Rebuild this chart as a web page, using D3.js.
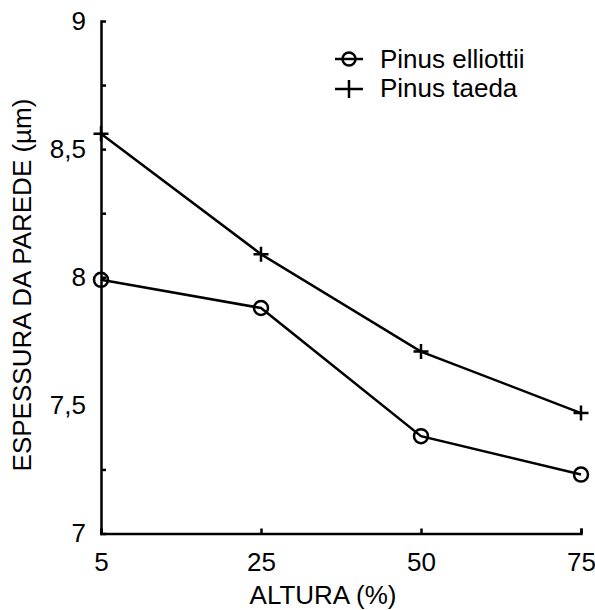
<!DOCTYPE html>
<html>
<head>
<meta charset="utf-8">
<script src="https://d3js.org/d3.v7.min.js"></script>
<style>
  body { margin: 0; background: #fff; }
  svg { font-family: "Liberation Sans", Arial, sans-serif; }
</style>
</head>
<body>
<div id="chart"></div>
<script>
// Data
const alturas = ["5", "25", "50", "75"];
const elliottii = [7.99, 7.88, 7.38, 7.23];
const taeda = [8.56, 8.09, 7.71, 7.47];
const yLabelTicks = [9, 8.5, 8, 7.5, 7];
const yMinorTicks = [8.75, 8.5, 8.25, 8, 7.25];

const width = 595;
const height = 610;
const plotLeft = 101, plotRight = 581, plotTop = 21, plotBottom = 533.5;

const svg = d3.select("#chart").append("svg")
    .attr("width", width)
    .attr("height", height);

const x = d3.scalePoint().domain(alturas).range([plotLeft, plotRight]).padding(0);
const y = d3.scaleLinear().domain([7, 9]).range([plotBottom, plotTop]);

const ptBR = d3.formatLocale({ decimal: ",", thousands: ".", grouping: [3], currency: ["R$", ""] });
const fmt = v => ptBR.format(",.1~f")(v);

// Axes: ticks point inward, labels drawn by a separate tick-less axis
svg.append("g")
    .attr("transform", `translate(0,${plotBottom})`)
    .call(d3.axisTop(x).tickSize(5).tickSizeOuter(5).tickFormat(""));

const xLabels = svg.append("g")
    .attr("transform", `translate(0,${plotBottom})`)
    .call(d3.axisBottom(x).tickSize(0).tickPadding(19));
xLabels.select(".domain").remove();

svg.append("g")
    .attr("transform", `translate(${plotLeft},0)`)
    .call(d3.axisRight(y).tickValues(yMinorTicks).tickSize(5).tickSizeOuter(5).tickFormat(""));

const yLabels = svg.append("g")
    .attr("transform", `translate(${plotLeft},0)`)
    .call(d3.axisLeft(y).tickValues(yLabelTicks).tickSize(0).tickPadding(15).tickFormat(fmt));
yLabels.select(".domain").remove();

svg.selectAll(".domain, .tick line")
    .attr("stroke", "#000")
    .attr("stroke-width", 2.5);
svg.selectAll(".tick text")
    .attr("fill", "#000")
    .style("font-size", "26px");

// Axis titles
svg.append("text")
    .attr("x", 323)
    .attr("y", 604)
    .attr("text-anchor", "middle")
    .style("font-size", "26px")
    .text("ALTURA (%)");

svg.append("text")
    .attr("transform", "translate(31,285) rotate(-90)")
    .attr("text-anchor", "middle")
    .style("font-size", "26px")
    .text("ESPESSURA DA PAREDE (µm)");

// Lines
const line = d3.line()
    .x((d, i) => x(alturas[i]))
    .y(d => y(d));

[elliottii, taeda].forEach(s => {
    svg.append("path")
        .datum(s)
        .attr("d", line)
        .attr("fill", "none")
        .attr("stroke", "#000")
        .attr("stroke-width", 2.5);
});

// Markers
svg.selectAll(".circ")
    .data(elliottii)
    .enter()
    .append("circle")
    .attr("class", "circ")
    .attr("cx", (d, i) => x(alturas[i]))
    .attr("cy", d => y(d))
    .attr("r", 7)
    .attr("fill", "none")
    .attr("stroke", "#000")
    .attr("stroke-width", 2.5);

const crossPath = (cx, cy, h) => `M${cx - h},${cy}H${cx + h}M${cx},${cy - h}V${cy + h}`;

svg.selectAll(".cross")
    .data(taeda)
    .enter()
    .append("path")
    .attr("class", "cross")
    .attr("d", (d, i) => crossPath(x(alturas[i]), y(d), 7.5))
    .attr("stroke", "#000")
    .attr("stroke-width", 2.5);

// Legend
const legend = svg.append("g");
legend.append("line")
    .attr("x1", 335).attr("x2", 363).attr("y1", 59).attr("y2", 59)
    .attr("stroke", "#000").attr("stroke-width", 2.5);
legend.append("circle")
    .attr("cx", 349).attr("cy", 59).attr("r", 6.5)
    .attr("fill", "none").attr("stroke", "#000").attr("stroke-width", 2.5);
legend.append("text")
    .attr("x", 380).attr("y", 68)
    .style("font-size", "26px")
    .text("Pinus elliottii");

legend.append("path")
    .attr("d", `M335,89H363M349,80V98`)
    .attr("stroke", "#000").attr("stroke-width", 2.5);
legend.append("text")
    .attr("x", 380).attr("y", 97)
    .style("font-size", "26px")
    .text("Pinus taeda");
</script>
</body>
</html>
